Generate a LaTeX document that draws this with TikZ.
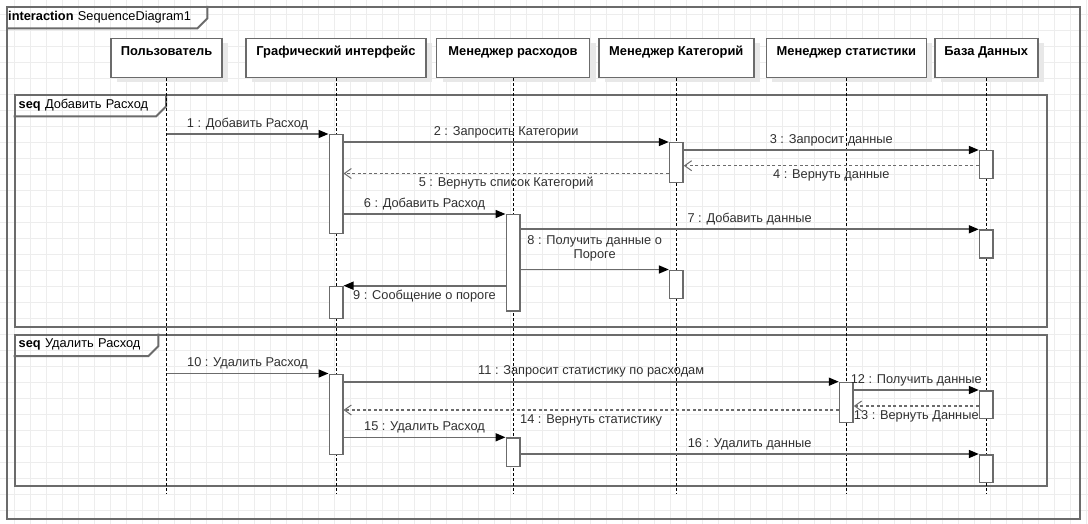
\documentclass[tikz,border=0pt]{standalone}
\usepackage{fontspec}
\setmainfont{Liberation Sans}
\usetikzlibrary{positioning,arrows.meta,calc,shadows}

\definecolor{gridgray}{HTML}{EDEDED}
\definecolor{linegray}{HTML}{6B6B6B}
\definecolor{labelgray}{HTML}{303030}

\begin{document}
\begin{tikzpicture}[
	x=1pt, y=-1pt,
	gridline/.style={draw=gridgray, line width=1pt},
	frame/.style={draw=linegray, line width=2pt},
	box/.style={frame, anchor=north west, inner sep=0pt},
	tab/.style={anchor=north west, inner xsep=5pt, inner ysep=0pt, minimum height=22pt, text width=#1, align=left, font=\fontsize{12.8}{14}\selectfont},
	head/.style={draw=linegray, line width=1.5pt, fill=white, anchor=north, minimum width=#1, minimum height=39pt,
		text height=10pt, text depth=14.4pt, inner ysep=7.3pt, font=\bfseries\fontsize{12.9}{15}\selectfont,
		drop shadow={shadow xshift=6pt, shadow yshift=-5pt, fill=black!9, opacity=1}},
	lifeline/.style={draw=black, line width=1pt, dash pattern=on 3pt off 2pt},
	act/.style={draw=linegray, line width=1.5pt, fill=white, anchor=north, minimum width=13.5pt, minimum height=#1, inner sep=0pt},
	msg/.style={draw=linegray, line width=1.6pt, -{Triangle[length=10pt, width=8pt, color=black]}},
	ret/.style={draw=linegray, line width=1.5pt, dash pattern=on 3pt off 2.5pt, -{Straight Barb[length=7pt, width=10pt, line width=1pt]}},
	lbl/.style={font=\fontsize{12.8}{13.4}\selectfont, text=labelgray, inner sep=0pt},
	lbl up/.style={lbl, yshift=10pt},
	lbl down/.style={lbl, yshift=-10pt},
	]

	\useasboundingbox (0,0) rectangle (1088,524);
	\foreach \x in {14.5,30.5,...,1086.5}
		\draw[gridline] (\x,0) -- (\x,524);
	\foreach \y in {14.5,30.5,...,510.5}
		\draw[gridline] (0,\y) -- (1088,\y);

	\node[box, minimum width=1073pt, minimum height=512pt] (outer) at (6,6) {};
	\node[tab=197pt, inner xsep=2pt] (t0) at (outer.north west) {\textbf{interaction} SequenceDiagram1};
	\draw[frame] (t0.south west) -- ($(t0.south east)+(-10,0)$) -- ($(t0.south east)+(0,-10)$) -- (t0.north east);

	\node[box, minimum width=1032.5pt, minimum height=231.5pt] (add) at (13.5,94) {};
	\node[tab=142.2pt] (t1) at (add.north west) {\textbf{seq}\ Добавить Расход};
	\draw[frame] (t1.south west) -- ($(t1.south east)+(-10,0)$) -- ($(t1.south east)+(0,-10)$) -- (t1.north east);

	\node[box, minimum width=1032.5pt, minimum height=151.3pt] (del) at (13.5,333.7) {};
	\node[tab=134.5pt] (t2) at (del.north west) {\textbf{seq}\ Удалить Расход};
	\draw[frame] (t2.south west) -- ($(t2.south east)+(-10,0)$) -- ($(t2.south east)+(0,-10)$) -- (t2.north east);

	\node[head=111pt] (user) at (166.5,37.7) {Пользователь};
	\node[head=180pt] (gui) at (336,37.7) {Графический интерфейс};
	\node[head=153pt] (expense) at (513,37.7) {Менеджер расходов};
	\node[head=155pt] (category) at (676.3,37.7) {Менеджер Категорий};
	\node[head=160pt] (stats) at (846.3,37.7) {Менеджер статистики};
	\node[head=103pt] (db) at (986.3,37.7) {База Данных};

	\coordinate (end) at (0,493.5);
	\foreach \n in {user,gui,expense,category,stats,db}
		\draw[lifeline] (\n.south) -- (\n.south |- end);

	\node[act=98.7pt] (gui1) at (gui.south |- 0,134) {};
	\node[act=39.7pt] (cat1) at (category.south |- 0,142) {};
	\node[act=27.7pt] (db1) at (db.south |- 0,150) {};
	\node[act=96pt] (exp1) at (expense.south |- 0,214) {};
	\node[act=28pt] (db2) at (db.south |- 0,229.3) {};
	\node[act=28.2pt] (cat2) at (category.south |- 0,269.5) {};
	\node[act=32pt] (gui2) at (gui.south |- 0,285.7) {};
	\node[act=80pt] (gui3) at (gui.south |- 0,373.5) {};
	\node[act=40pt] (stat1) at (stats.south |- 0,381.7) {};
	\node[act=27.7pt] (db3) at (db.south |- 0,390) {};
	\node[act=28.4pt] (exp2) at (expense.south |- 0,437.3) {};
	\node[act=27.7pt] (db4) at (db.south |- 0,454) {};

	\draw[msg] (user.south |- gui1.north) -- node[lbl up] {1 : Добавить Расход} (gui1.north west);
	\draw[msg] (gui1.east |- cat1.north) -- node[lbl up] {2 : Запросить Категории} (cat1.north west);
	\draw[msg] (cat1.east |- db1.north) -- node[lbl up] {3 : Запросит данные} (db1.north west);
	\draw[ret] (db1.west |- 0,165.7) -- node[lbl down] {4 : Вернуть данные} (cat1.east |- 0,165.7);
	\draw[ret] (cat1.west |- 0,173.5) -- node[lbl down] {5 : Вернуть список Категорий} (gui1.east |- 0,173.5);
	\draw[msg] (gui1.east |- exp1.north) -- node[lbl up] {6 : Добавить Расход} (exp1.north west);
	\draw[msg] (exp1.east |- db2.north) -- node[lbl up] {7 : Добавить данные} (db2.north west);
	\draw[msg] (exp1.east |- cat2.north) -- node[lbl, yshift=21pt, align=center] {8 : Получить данные о\\Пороге} (cat2.north west);
	\draw[msg] (exp1.west |- gui2.north) -- node[lbl down] {9 : Сообщение о пороге} (gui2.north east);

	\draw[msg] (user.south |- gui3.north) -- node[lbl up] {10 : Удалить Расход} (gui3.north west);
	\draw[msg] (gui3.east |- stat1.north) -- node[lbl up] {11 : Запросит статистику по расходам} (stat1.north west);
	\draw[msg] (stat1.east |- db3.north) -- node[lbl up] {12 : Получить данные} (db3.north west);
	\draw[ret] (db3.west |- 0,406) -- node[lbl down] {13 : Вернуть Данные} (stat1.east |- 0,406);
	\draw[ret] (stat1.west |- 0,410) -- node[lbl down] {14 : Вернуть статистику} (gui3.east |- 0,410);
	\draw[msg] (gui3.east |- exp2.north) -- node[lbl up] {15 : Удалить Расход} (exp2.north west);
	\draw[msg] (exp2.east |- db4.north) -- node[lbl up] {16 : Удалить данные} (db4.north west);

\end{tikzpicture}
\end{document}
